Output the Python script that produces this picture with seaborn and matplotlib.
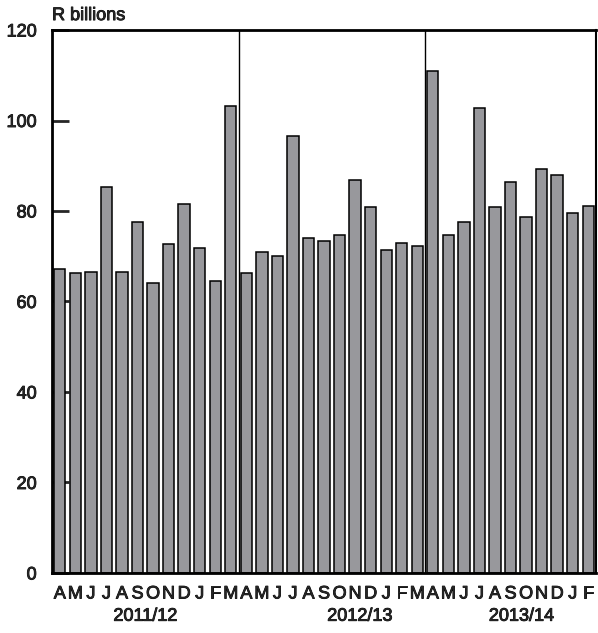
import numpy as np
import pandas as pd
import seaborn as sns
import matplotlib.pyplot as plt
import matplotlib.patheffects as pe

# monthly values, April 2011 to February 2014
periods = pd.period_range("2011-04", "2014-02", freq="M").astype(str).tolist()
month_letters = ["A", "M", "J", "J", "A", "S", "O", "N", "D", "J", "F", "M"] * 2 + \
    ["A", "M", "J", "J", "A", "S", "O", "N", "D", "J", "F"]
values = [
    67.2, 66.4, 66.6, 85.2, 66.6, 77.6, 64.0, 72.7, 81.5, 71.8, 64.6, 103.2,
    66.2, 71.0, 70.0, 96.6, 74.1, 73.4, 74.8, 86.8, 80.9, 71.4, 72.9, 72.3,
    110.9, 74.8, 77.5, 102.7, 80.9, 86.5, 78.7, 89.3, 87.9, 79.5, 81.0,
]
fiscal_years = ["2011/12", "2012/13", "2013/14"]
year_label_pos = [5.5, 19.3, 29.7]
year_breaks = [11.5, 23.5]

df = pd.DataFrame({"period": periods, "value": values})

sns.set_style("white")
plt.rcParams["font.family"] = ["Liberation Sans", "DejaVu Sans"]

# slightly heavier text than regular weight
heavy = [pe.withStroke(linewidth=0.6, foreground="black")]

fig = plt.figure(figsize=(5.98, 6.33), dpi=100)
ax = fig.add_axes([0.087, 0.0948, 0.9097, 0.8578])

sns.barplot(data=df, x="period", y="value", order=periods, color="#98989c",
            saturation=1, width=0.73, edgecolor="black", linewidth=1.1, ax=ax)

for xb in year_breaks:
    ax.axvline(xb, color="black", linewidth=1.0)

ax.set_xlim(-0.5, len(periods) - 0.5)
ax.set_ylim(0, 120)
ax.set_yticks(range(0, 121, 20))
ax.set_xticks(range(len(periods)))
ax.set_xticklabels(month_letters)
ax.set_xlabel("")
ax.set_ylabel("")

for side in ["left", "top", "bottom", "right"]:
    ax.spines[side].set_visible(True)
    ax.spines[side].set_color("black")
    ax.spines[side].set_linewidth(2.0)
ax.spines["right"].set_linewidth(1.5)

ax.tick_params(axis="y", direction="in", length=12, width=2, labelsize=13, pad=11, left=True)
ax.tick_params(axis="x", length=0, labelsize=13, pad=9)
for lbl in ax.get_xticklabels() + ax.get_yticklabels():
    lbl.set_path_effects(heavy)

for name, pos in zip(fiscal_years, year_label_pos):
    ax.text(pos, -0.064, name, transform=ax.get_xaxis_transform(),
            ha="center", va="top", fontsize=13, path_effects=heavy)

fig.text(0.087, 0.962, "R billions", ha="left", va="bottom", fontsize=13,
         path_effects=heavy)

fig.savefig("out.png", dpi=100)
